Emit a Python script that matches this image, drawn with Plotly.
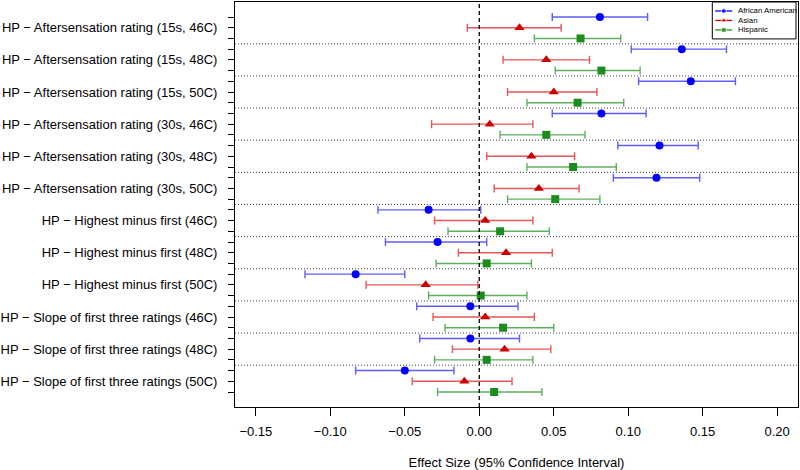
import plotly.graph_objects as go

outcomes = [
    "HP − Aftersensation rating (15s, 46C)",
    "HP − Aftersensation rating (15s, 48C)",
    "HP − Aftersensation rating (15s, 50C)",
    "HP − Aftersensation rating (30s, 46C)",
    "HP − Aftersensation rating (30s, 48C)",
    "HP − Aftersensation rating (30s, 50C)",
    "HP − Highest minus first (46C)",
    "HP − Highest minus first (48C)",
    "HP − Highest minus first (50C)",
    "HP − Slope of first three ratings (46C)",
    "HP − Slope of first three ratings (48C)",
    "HP − Slope of first three ratings (50C)",
]

aa_est = [0.081, 0.136, 0.142, 0.082, 0.121, 0.119, -0.034, -0.028, -0.083, -0.006, -0.006, -0.050]
aa_lo = [0.049, 0.102, 0.107, 0.049, 0.093, 0.090, -0.068, -0.063, -0.117, -0.042, -0.040, -0.083]
aa_hi = [0.113, 0.166, 0.172, 0.112, 0.147, 0.148, 0.001, 0.005, -0.050, 0.026, 0.027, -0.017]

as_est = [0.027, 0.045, 0.050, 0.007, 0.035, 0.040, 0.004, 0.018, -0.036, 0.004, 0.017, -0.010]
as_lo = [-0.008, 0.016, 0.019, -0.032, 0.005, 0.010, -0.030, -0.014, -0.076, -0.031, -0.018, -0.045]
as_hi = [0.055, 0.074, 0.079, 0.036, 0.064, 0.067, 0.036, 0.049, -0.001, 0.037, 0.048, 0.022]

hi_est = [0.068, 0.082, 0.066, 0.045, 0.063, 0.051, 0.014, 0.005, 0.001, 0.016, 0.005, 0.010]
hi_lo = [0.037, 0.051, 0.032, 0.014, 0.032, 0.019, -0.021, -0.029, -0.034, -0.023, -0.030, -0.028]
hi_hi = [0.095, 0.108, 0.097, 0.071, 0.092, 0.081, 0.047, 0.035, 0.032, 0.050, 0.036, 0.042]

x_ticks = [-0.15, -0.10, -0.05, 0.00, 0.05, 0.10, 0.15, 0.20]
group_names = ["African American", "Asian", "Hispanic"]

series = [
    (group_names[0], aa_est, aa_lo, aa_hi, "#0000FF", "rgba(40,40,255,0.75)", "circle", 8, 5),
    (group_names[1], as_est, as_lo, as_hi, "#CC0000", "rgba(220,30,30,0.75)", "triangle-up", 9, 6),
    (group_names[2], hi_est, hi_lo, hi_hi, "#1E8B1E", "rgba(40,150,40,0.75)", "square", 8, 5),
]

W, H = 800, 470
ML, MR, MT, MB = 234, 1, 1, 63
PX0, PX1, PY0, PY1 = ML, W - MR, MT, H - MB

n = len(outcomes)
fig = go.Figure()

for k, (name, est, lo, hi, mcol, bcol, sym, size, lsize) in enumerate(series):
    ys = [3 * g + k + 1 for g in range(n)]
    fig.add_trace(go.Scatter(
        x=est, y=ys, mode="markers", name=name,
        marker=dict(color=mcol, symbol=sym, size=size, line=dict(width=0)),
        error_x=dict(type="data", symmetric=False,
                     array=[h - e for h, e in zip(hi, est)],
                     arrayminus=[e - l for e, l in zip(est, lo)],
                     color=bcol, thickness=1.4, width=4),
        showlegend=False,
    ))

# Manual compact legend (pixel-based overlay axes)
leg_x0, leg_x1, leg_y0, leg_y1 = 713, 797, 1, 38
annotations = []
for k, (name, est, lo, hi, mcol, bcol, sym, size, lsize) in enumerate(series):
    yy = 10 + 9.5 * k
    fig.add_trace(go.Scatter(
        x=[716, 724.5, 733], y=[yy, yy, yy], xaxis="x2", yaxis="y2",
        mode="lines+markers", line=dict(color=mcol, width=1.3),
        marker=dict(color=mcol, symbol=sym, size=[0, lsize, 0]),
        showlegend=False, hoverinfo="skip",
    ))
    annotations.append(dict(x=737, y=yy, xref="x2", yref="y2", text=name,
                            showarrow=False, xanchor="left", yanchor="middle",
                            font=dict(size=7.8, color="black")))

shapes = []
for g in range(n - 1):
    yv = 3 * g + 3.5
    shapes.append(dict(type="line", xref="paper", x0=0, x1=1, yref="y", y0=yv, y1=yv,
                       line=dict(color="#444444", width=1, dash="1px,2px")))
shapes.append(dict(type="line", xref="x", x0=0, x1=0, yref="paper", y0=0, y1=1,
                   line=dict(color="black", width=1.3, dash="4px,3px")))
shapes.append(dict(type="rect", xref="x2", yref="y2", x0=leg_x0, x1=leg_x1,
                   y0=leg_y0, y1=leg_y1, line=dict(color="black", width=1),
                   fillcolor="white", layer="below"))

tickvals = list(range(1, 3 * n + 1))
ticktext = []
for r in tickvals:
    g, k = divmod(r - 1, 3)
    ticktext.append(outcomes[g] if k == 1 else "")

fig.update_layout(
    width=W, height=H,
    margin=dict(l=ML, r=MR, t=MT, b=MB),
    paper_bgcolor="white", plot_bgcolor="white",
    font=dict(family="Liberation Sans, Arial, sans-serif", size=13, color="black"),
    shapes=shapes, annotations=annotations,
    showlegend=False,
    xaxis=dict(range=[-0.164, 0.214], tickvals=x_ticks,
               ticktext=[("−" if v < 0 else "") + f"{abs(v):.2f}" for v in x_ticks],
               ticks="outside", ticklen=8, tickcolor="black", ticklabelstandoff=4,
               tickfont=dict(size=13),
               showgrid=False, zeroline=False, showline=True, linecolor="black",
               mirror=True, linewidth=1,
               title=dict(text="Effect Size (95% Confidence Interval)", standoff=21,
                          font=dict(size=13))),
    yaxis=dict(range=[3 * n + 1.4, -0.4], tickvals=tickvals, ticktext=ticktext,
               ticks="outside", ticklen=6, tickcolor="black", ticklabelstandoff=8,
               tickfont=dict(size=13),
               showgrid=False, zeroline=False, showline=True, linecolor="black",
               mirror=True, linewidth=1),
    xaxis2=dict(overlaying="x", range=[PX0, PX1], visible=False, fixedrange=True),
    yaxis2=dict(overlaying="y", range=[PY1, PY0], visible=False, fixedrange=True),
)

fig.write_html("out.html", config={"displayModeBar": False},
               post_script="document.body.style.margin='0';")
